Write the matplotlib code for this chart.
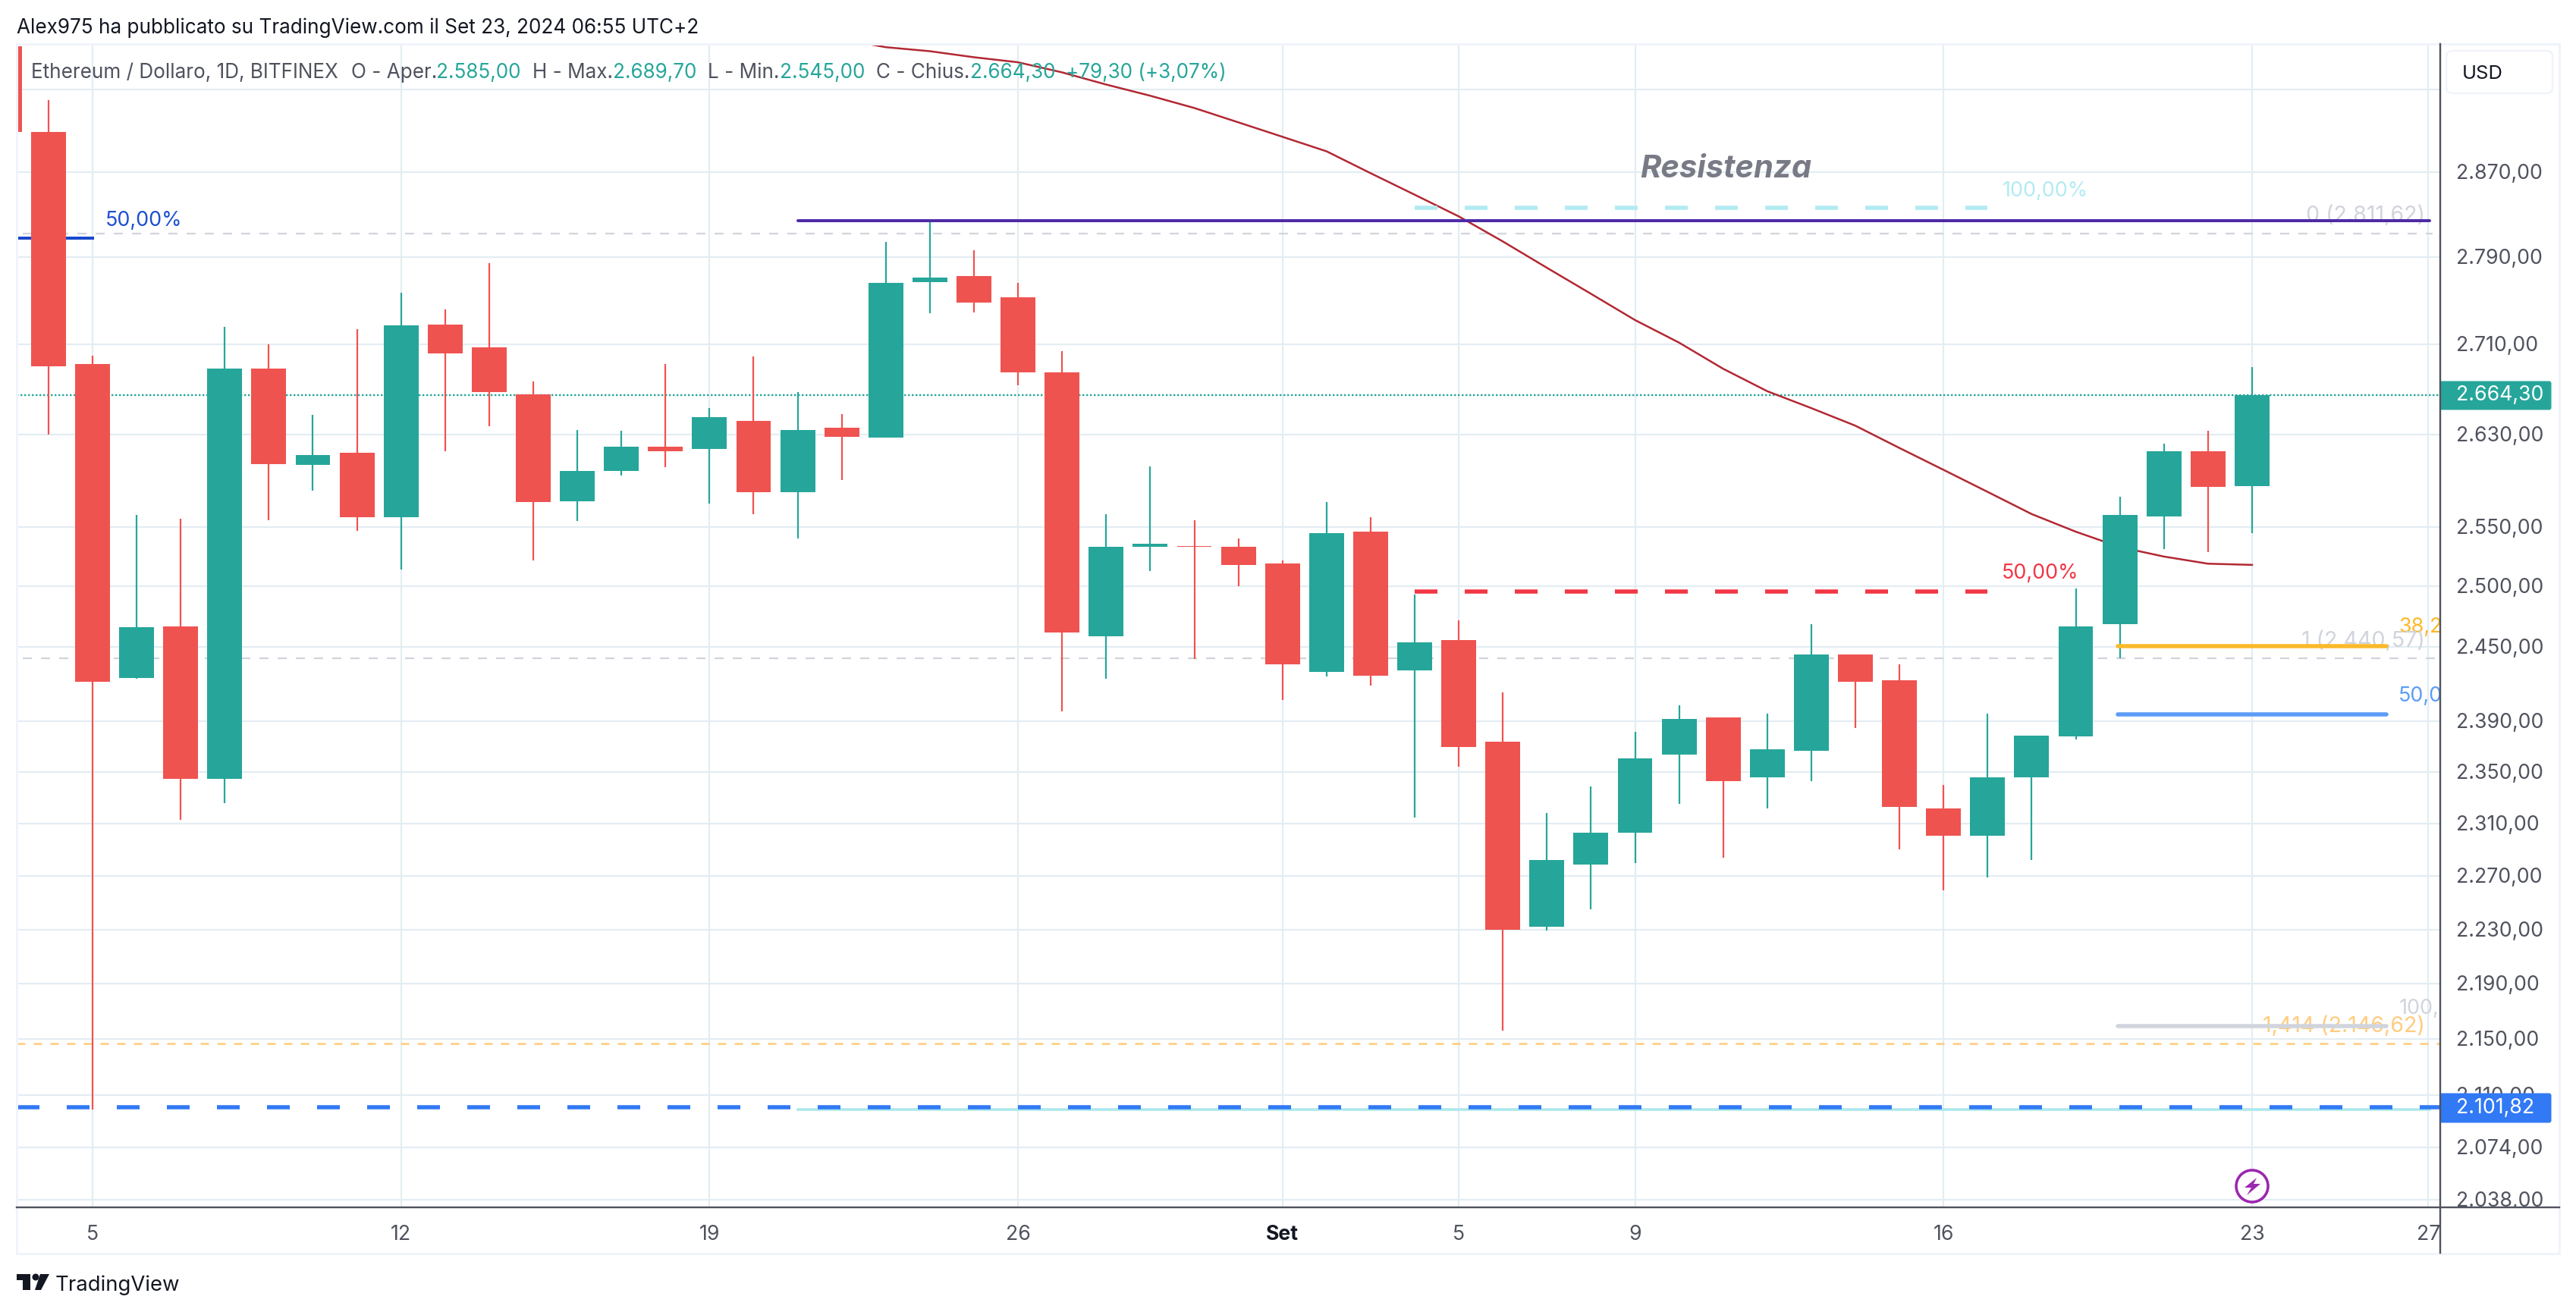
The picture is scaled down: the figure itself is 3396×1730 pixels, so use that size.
import numpy as np
import matplotlib
matplotlib.use("Agg")
import matplotlib.pyplot as plt
from matplotlib.patches import Circle, FancyBboxPatch, Polygon
from matplotlib.ticker import FixedLocator, NullLocator
from matplotlib.transforms import Bbox, ScaledTranslation

plt.rcParams["font.family"] = ["Inter", "DejaVu Sans"]
plt.rcParams["lines.scale_dashes"] = False

W, H = 3396, 1731
PX = 0.72  # one pixel in points at dpi 100

GREEN = "#26a69a"
RED = "#ef5350"
GRID = "#e3edf3"
TEXT = "#50535e"
FRAME = "#f0f3fa"
LINE_GRAY = "#d1d4dc"
AQUA = "#b2ebf2"

# daily candles, first bar is cut by the left edge
days = list(range(-2, 50))
opens = [2993, 2909, 2692, 2425, 2467, 2345, 2688, 2603, 2614, 2558, 2728, 2707, 2665,
         2572, 2598, 2619, 2617, 2642, 2580, 2636, 2627, 2767, 2772, 2753, 2685, 2459,
         2533, 2534, 2533, 2519, 2430, 2546, 2431, 2456, 2374, 2232, 2279, 2303, 2364,
         2393, 2346, 2367, 2444, 2423, 2322, 2301, 2346, 2378, 2469, 2559, 2615, 2585]
highs = [2993, 2940, 2700, 2560, 2557, 2726, 2710, 2647, 2724, 2757, 2742, 2784, 2677,
         2634, 2633, 2692, 2653, 2699, 2667, 2648, 2804, 2824, 2796, 2766, 2704, 2561,
         2602, 2556, 2540, 2522, 2571, 2558, 2493, 2472, 2413, 2318, 2339, 2382, 2403,
         2393, 2396, 2469, 2444, 2436, 2340, 2396, 2379, 2498, 2576, 2622, 2633, 2689.7]
lows = [2909, 2630, 2100, 2424, 2313, 2326, 2556, 2581, 2547, 2514, 2615, 2637, 2522,
        2555, 2594, 2601, 2570, 2561, 2540, 2590, 2627, 2738, 2739, 2673, 2398, 2424,
        2513, 2440, 2500, 2407, 2426, 2419, 2315, 2354, 2156, 2229, 2245, 2280, 2325,
        2284, 2322, 2343, 2385, 2290, 2259, 2269, 2282, 2376, 2441, 2531, 2529, 2545]
closes = [2909, 2690, 2422, 2466, 2345, 2688, 2604, 2612, 2558, 2727, 2702, 2667, 2571,
          2598, 2619, 2615, 2645, 2580, 2634, 2628, 2766, 2771, 2748, 2685, 2462, 2533,
          2536, 2533, 2518, 2436, 2545, 2427, 2454, 2370, 2230, 2282, 2303, 2361, 2392,
          2343, 2368, 2444, 2422, 2323, 2301, 2346, 2379, 2467, 2560, 2615, 2584, 2664.3]

ma_days = list(range(17, 50))
ma_values = [3000, 2992, 2988, 2982, 2977, 2967, 2955, 2944, 2932, 2918, 2904, 2890, 2869,
             2848.5, 2828, 2804.5, 2780, 2756, 2732, 2711.5, 2688, 2668, 2653, 2637.5, 2618,
             2599, 2580, 2561, 2546, 2533, 2525, 2519, 2518]

price_grid = [2950, 2870, 2790, 2710, 2630, 2550, 2500, 2450, 2390, 2350, 2310, 2270,
              2230, 2190, 2150, 2110, 2074, 2038]
day_ticks = [0, 7, 14, 21, 27, 31, 35, 42, 49, 53]
day_labels = ["5", "12", "19", "26", "Set", "5", "9", "16", "23", "27"]

last_price = 2664.30
support = 2101.82
fib_top = 2811.62
fib_one = 2440.57
fib_ext = 2146.62
trend_res = 2824
trend_sup = 2100.2
left_level = 2807.5
zone_high = 2836
zone_mid = 2495.6
box_382 = 2451
box_500 = 2395.6
box_100 = 2159.5


def it_price(v):
    return f"{v:,.2f}".replace(",", "#").replace(".", ",").replace("#", ".")


fig = plt.figure(figsize=(W / 100, H / 100), dpi=100, facecolor="white")
ax = fig.add_axes([22 / W, 1 - 1593 / H, (3217 - 22) / W, (1593 - 59) / H])
ov = fig.add_axes([0, 0, 1, 1], zorder=5)
ov.set_xlim(0, W)
ov.set_ylim(H, 0)
ov.axis("off")

ax.set_yscale("log")
ax.set_ylim(2032.8, 2995.2)
ax.set_xlim(-1.721, 53.27)
ax.yaxis.set_major_locator(FixedLocator(price_grid))
ax.yaxis.set_minor_locator(NullLocator())
ax.yaxis.tick_right()
ax.set_yticklabels(["" if p == 2950 else it_price(p) for p in price_grid])
ax.set_xticks(day_ticks)
ax.set_xticklabels(day_labels)
ax.tick_params(axis="y", which="major", length=0, pad=21 * PX, labelsize=19.2, labelcolor=TEXT)
ax.tick_params(axis="x", which="major", length=0, pad=22 * PX, labelsize=19.2, labelcolor=TEXT)
ax.xaxis.get_ticklabels()[4].set_fontweight("bold")
ax.xaxis.get_ticklabels()[4].set_color("#131722")
ax.grid(True, color=GRID, lw=2.2 * PX, zorder=0)
ax.set_axisbelow(True)
for side in ax.spines.values():
    side.set_visible(False)

# price labels sit a little above their grid lines
nudge = ScaledTranslation(0, 2 / 100, fig.dpi_scale_trans)
for lab in ax.yaxis.get_ticklabels():
    lab.set_transform(lab.get_transform() + nudge)

# clip the lowest price label and the last date at the pane edges
pane = Bbox([[0, H - 1593], [W, H]])
ax.yaxis.get_ticklabels()[-1].set_clip_box(pane)
ax.yaxis.get_ticklabels()[-1].set_clip_on(True)
ax.xaxis.get_ticklabels()[-1].set_clip_box(Bbox([[0, 0], [3217, H]]))
ax.xaxis.get_ticklabels()[-1].set_clip_on(True)

# levels behind the candles
ax.plot([-1.58, 53.1], [fib_top, fib_top], color=LINE_GRAY, lw=2.2 * PX, dashes=(12 * PX, 12 * PX), zorder=2)
ax.plot([-1.58, 53.27], [fib_one, fib_one], color=LINE_GRAY, lw=2.2 * PX, dashes=(12 * PX, 12 * PX), zorder=2)
ax.plot([-1.72, 53.27], [fib_ext, fib_ext], color="#ffcc80", lw=2.6 * PX, dashes=(11 * PX, 11 * PX), zorder=2)
ax.plot([-1.72, 53.27], [last_price, last_price], color=GREEN, lw=2.4 * PX, dashes=(2.4 * PX, 2.6 * PX), zorder=2)
ax.plot([-1.72, 0], [left_level, left_level], color="#1848cc", lw=4 * PX, zorder=2)
ax.plot(ma_days, ma_values, color="#b22833", lw=2.5 * PX, zorder=2.5)

# candles
for d, o, h, l, c in zip(days, opens, highs, lows, closes):
    col = GREEN if c >= o else RED
    ax.vlines(d, l, h, color=col, lw=2.2 * PX, zorder=3)
    ax.bar(d, abs(c - o), bottom=min(o, c), width=0.79, color=col, lw=0, zorder=3.1)

# drawings on top
ax.plot([16, 53.03], [trend_res, trend_res], color="#4e2ba6", lw=4 * PX, solid_capstyle="round", zorder=4.5)
ax.plot([16, 53.03], [trend_sup, trend_sup], color="#ade8ee", lw=3.6 * PX, zorder=4)
ax.plot([-1.72, 53.27], [support, support], color="#3179f5", lw=5.5 * PX, dashes=(30 * PX, 36 * PX), zorder=4.2)
ax.plot([30, 43], [zone_high, zone_high], color=AQUA, lw=5.5 * PX, dashes=(30 * PX, 36 * PX), zorder=4)
ax.plot([30, 43], [zone_mid, zone_mid], color="#f23645", lw=5.5 * PX, dashes=(30 * PX, 36 * PX), zorder=4)
ax.plot([45.96, 52.05], [box_382, box_382], color="#fbb92a", lw=5.5 * PX, solid_capstyle="round", zorder=4.5)
ax.plot([45.96, 52.05], [box_500, box_500], color="#5b9cf6", lw=5.5 * PX, solid_capstyle="round", zorder=4.5)
ax.plot([45.96, 52.05], [box_100, box_100], color=LINE_GRAY, lw=5.5 * PX, solid_capstyle="round", zorder=4.5)


def pane_text(x, y, s, color, ha="left", size=19.4, z=4, **kw):
    ax.text(x, y + 2, s, color=color, ha=ha, va="center", fontsize=size, zorder=z,
            transform=ov.transData, clip_on=True, **kw)


pane_text(139, 289, "50,00%", "#1c4fd0")
pane_text(2640, 250, "100,00%", AQUA)
pane_text(2639, 754, "50,00%", "#f23645")
pane_text(3162, 825, "38,20%", "#fbb92a")
pane_text(3162, 916, "50,00%", "#5b9cf6")
pane_text(3163, 1328, "100,00%", LINE_GRAY)
pane_text(3197, 282, "0 (2.811,62)", LINE_GRAY, ha="right", size=20.6)
pane_text(3197, 843, "1 (2.440,57)", LINE_GRAY, ha="right", size=20.6)
pane_text(3197, 1351, "1,414 (2.146,62)", "#ffcc80", ha="right", size=20.6)
pane_text(2275, 221, "Resistenza", "#787b86", ha="center", size=30, fontweight="bold", fontstyle="italic")

# frame around the chart
for (x0, y0, x1, y1) in [(22, 59, 3374, 59), (22, 59, 22, 1654), (3374, 59, 3374, 1654), (22, 1654, 3374, 1654)]:
    ov.plot([x0, x1], [y0, y1], color=FRAME, lw=3 * PX)

ov.add_patch(FancyBboxPatch((3231, 74), 128, 44, boxstyle="round,pad=6,rounding_size=8",
                            fc="white", ec=FRAME, lw=2.4 * PX))
ov.text(3246, 98, "USD", color="#131722", fontsize=18.4, va="center")

ov.add_patch(FancyBboxPatch((3218, 505), 144, 35, boxstyle="round,pad=1.5,rounding_size=3", fc=GREEN, lw=0))
ov.text(3238, 521, it_price(last_price), color="white", fontsize=19.2, va="center")
ov.add_patch(FancyBboxPatch((3218, 1444), 144, 36, boxstyle="round,pad=1.5,rounding_size=3", fc="#3179f5", lw=0))
ov.text(3238, 1461, it_price(support), color="white", fontsize=19.2, va="center")

ov.plot([3217, 3217], [59, 1653], color=TEXT, lw=2.4 * PX)
ov.plot([22, 3374], [1593, 1593], color=TEXT, lw=2.4 * PX)

# header and legend
ov.text(22, 37, "Alex975 ha pubblicato su TradingView.com il Set 23, 2024 06:55 UTC+2",
        color="#131722", fontsize=18.8, va="center")
legend_bits = [
    (41, "Ethereum / Dollaro, 1D, BITFINEX", TEXT),
    (463, "O - Aper.", TEXT), (575, "2.585,00", GREEN),
    (702, "H - Max.", TEXT), (808, "2.689,70", GREEN),
    (933, "L - Min.", TEXT), (1028, "2.545,00", GREEN),
    (1155, "C - Chius.", TEXT), (1279, "2.664,30", GREEN),
    (1405, "+79,30 (+3,07%)", GREEN),
]
for x, s, col in legend_bits:
    ov.text(x, 96, s, color=col, fontsize=18.8, va="center")

# lightning badge on the last bar
ov.add_patch(Circle((2969, 1565), 21, fc="white", ec="#9c27b0", lw=3.6 * PX))
ov.add_patch(Polygon([(2975, 1554), (2959, 1567), (2968, 1567), (2962, 1577), (2980, 1562), (2971, 1562)],
                     fc="#9c27b0", lw=0))

# TradingView logo
ov.add_patch(Polygon([(22, 1681), (40, 1681), (40, 1702), (30, 1702), (30, 1689), (22, 1689)], fc="#131722", lw=0))
ov.add_patch(Circle((47, 1685), 4.5, fc="#131722", lw=0))
ov.add_patch(Polygon([(53, 1681), (65, 1681), (54, 1702), (46, 1702)], fc="#131722", lw=0))
ov.text(73, 1695, "TradingView", color="#131722", fontsize=19.8, va="center")

fig.savefig("out.png", dpi=100, facecolor="white")
